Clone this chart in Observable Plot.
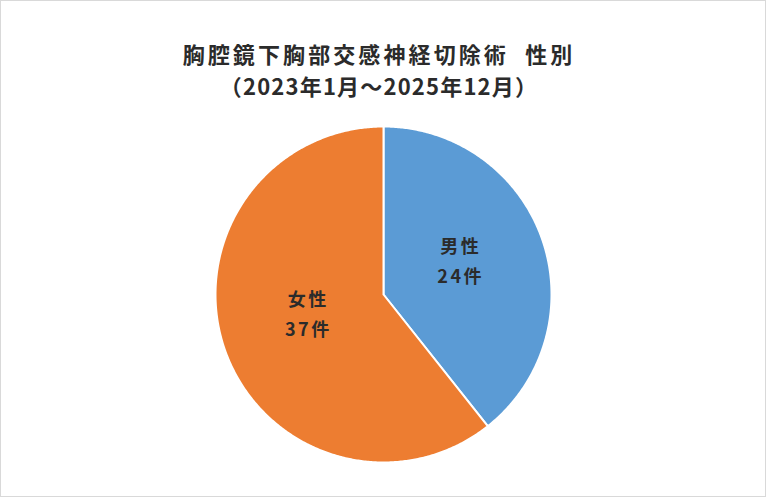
<!DOCTYPE html>
<html><head><meta charset="utf-8">
<script src="https://cdn.jsdelivr.net/npm/d3@7"></script>
<script src="https://cdn.jsdelivr.net/npm/@observablehq/plot@0.6"></script>
<style>
body{margin:0;background:#fff;}
#wrap{position:relative;width:764px;height:495px;border:1px solid #d9d9d9;background:#fff;overflow:hidden;font-family:"Noto Sans CJK JP","Noto Sans",sans-serif;}
.t{position:absolute;left:-5px;width:766px;text-align:center;font-weight:bold;color:#2b2b2b;font-size:22px;line-height:1;}
#t1{top:41px;letter-spacing:3.1px;}
#t2{top:73px;letter-spacing:1.2px;}
#plot{position:absolute;left:212px;top:123px;}
#plot text{letter-spacing:2.5px;}
</style></head>
<body>
<div id="wrap">
<div class="t" id="t1">胸腔鏡下胸部交感神経切除術&nbsp; 性別</div>
<div class="t" id="t2">（2023年1月～2025年12月）</div>
<div id="plot"></div>
</div>
<script>
const categories = ["男性", "女性"];
const counts = [24, 37];
const colors = ["#5B9BD5", "#ED7D31"];
const unit = "件";

const data = categories.map((c, i) => ({label: c, value: counts[i]}));
const arcs = d3.pie().sort(null).value(d => d.value)(data);

const poly = [];
arcs.forEach(a => {
  const lab = a.data.label;
  poly.push({label: lab, x: 0, y: 0});
  const n = Math.max(2, Math.ceil((a.endAngle - a.startAngle) / (Math.PI / 360)));
  for (let k = 0; k <= n; k++) {
    const t = a.startAngle + (a.endAngle - a.startAngle) * k / n;
    poly.push({label: lab, x: Math.sin(t), y: Math.cos(t)});
  }
  poly.push({label: lab, x: 0, y: 0});
});

const labels = arcs.map(a => {
  const m = (a.startAngle + a.endAngle) / 2;
  const k = 0.48;
  return {label: a.data.label, text: a.data.label + "\n" + a.data.value + unit, x: Math.sin(m) * k, y: Math.cos(m) * k};
});

const chart = Plot.plot({
  width: 340, height: 340, margin: 2,
  x: {domain: [-1, 1], axis: null},
  y: {domain: [-1, 1], axis: null},
  color: {domain: categories, range: colors},
  marks: [
    Plot.line(poly, {x: "x", y: "y", z: "label", fill: "label", stroke: "white", strokeWidth: 2, strokeLinejoin: "round"}),
    Plot.text(labels, {x: "x", y: "y", dx: 1, dy: -10, text: "text", fontSize: 18, fontWeight: "bold", fill: "#2b2b2b", lineHeight: 1.67, fontFamily: "Noto Sans CJK JP"})
  ]
});
document.getElementById("plot").appendChild(chart);
</script>
</body></html>
